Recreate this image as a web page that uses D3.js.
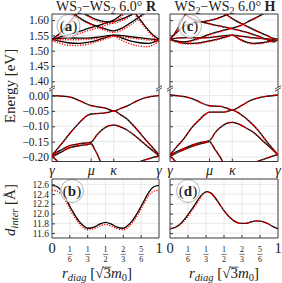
<!DOCTYPE html>
<html><head><meta charset="utf-8">
<script src="https://cdn.jsdelivr.net/npm/d3@7"></script>
<style>
body{margin:0;background:#fff}
text{font-family:"Liberation Serif","DejaVu Serif",serif;fill:#222}
</style></head>
<body><svg id="c" width="282" height="283"></svg>
<script>
// ---------------- data ----------------
const kLabels = ["γ","μ","κ","γ"];
const kPos = [0, 0.366, 0.577, 1];
const yTicksHigh = [1.40,1.45,1.50,1.55,1.60];
const yTicksLow = [-0.20,-0.15,-0.10,-0.05,0.00];
const dTicks = [11.6,11.8,12.0,12.2,12.4,12.6];
const rTicks = [0,1/6,1/3,1/2,2/3,5/6,1];
const rTickNum = ["0","1","1","1","2","5","1"];
const rTickDen = [null,"6","3","2","3","6",null];

// panel (a) upper energy, black (t along path, E in eV)
const highA_black = [
 [[0,1.537],[0.07,1.531],[0.15,1.526],[0.25,1.524],[0.33,1.527],[0.42,1.534],[0.5,1.543],[0.577,1.551],[0.65,1.549],[0.75,1.545],[0.85,1.541],[0.93,1.538],[1,1.537]],
 [[0,1.537],[0.07,1.540],[0.15,1.542],[0.25,1.541],[0.33,1.541],[0.42,1.544],[0.5,1.548],[0.577,1.551],[0.65,1.542],[0.73,1.532],[0.82,1.526],[0.9,1.524],[0.95,1.528],[1,1.537]],
 [[0.2,1.622],[0.29,1.600],[0.36,1.588],[0.43,1.579],[0.5,1.571],[0.577,1.565],[0.65,1.573],[0.72,1.588],[0.8,1.607],[0.86,1.622]],
 [[0,1.537],[0.08,1.545],[0.15,1.552],[0.22,1.559],[0.28,1.566],[0.34,1.573],[0.43,1.582],[0.5,1.590],[0.577,1.600],[0.62,1.610],[0.66,1.622]],
 [[0,1.537],[0.04,1.547],[0.08,1.560],[0.12,1.575],[0.16,1.592],[0.2,1.610],[0.23,1.622]],
 [[0.78,1.622],[0.8,1.612],[0.84,1.594],[0.88,1.576],[0.92,1.560],[0.96,1.547],[1,1.537]],
 [[0.3,1.622],[0.38,1.607],[0.45,1.598],[0.52,1.594],[0.577,1.595],[0.65,1.603],[0.72,1.614],[0.76,1.622]]
];
const highA_red = [
 [[0,1.533],[0.05,1.527],[0.12,1.520],[0.2,1.517],[0.28,1.518],[0.366,1.524],[0.45,1.533],[0.52,1.541],[0.577,1.547],[0.65,1.545],[0.75,1.541],[0.85,1.537],[0.93,1.534],[1,1.531]],
 [[0,1.533],[0.07,1.535],[0.15,1.536],[0.25,1.536],[0.33,1.537],[0.42,1.540],[0.5,1.544],[0.577,1.547],[0.64,1.536],[0.72,1.524],[0.8,1.516],[0.88,1.513],[0.94,1.518],[1,1.531]],
 [[0.19,1.622],[0.28,1.600],[0.35,1.587],[0.43,1.575],[0.5,1.566],[0.577,1.560],[0.65,1.567],[0.72,1.582],[0.8,1.601],[0.87,1.622]],
 [[0,1.533],[0.08,1.538],[0.15,1.545],[0.22,1.552],[0.28,1.559],[0.34,1.566],[0.43,1.575],[0.5,1.583],[0.577,1.593],[0.63,1.605],[0.68,1.622]],
 [[0,1.533],[0.04,1.542],[0.08,1.555],[0.12,1.570],[0.16,1.587],[0.2,1.605],[0.24,1.622]],
 [[0.77,1.622],[0.8,1.607],[0.84,1.589],[0.88,1.571],[0.92,1.555],[0.96,1.541],[1,1.531]],
 [[0.29,1.622],[0.37,1.605],[0.45,1.594],[0.52,1.589],[0.577,1.590],[0.65,1.598],[0.72,1.610],[0.77,1.622]]
];
// panel (c) upper energy
const highC_black = [
 [[0,1.537],[0.07,1.531],[0.13,1.529],[0.22,1.535],[0.32,1.548],[0.42,1.560],[0.5,1.567],[0.565,1.573],[0.65,1.582],[0.75,1.600],[0.82,1.612],[0.87,1.622]],
 [[0.13,1.622],[0.2,1.605],[0.287,1.595],[0.38,1.587],[0.47,1.580],[0.565,1.573],[0.65,1.566],[0.75,1.556],[0.85,1.543],[0.93,1.532],[0.96,1.529],[1,1.537]],
 [[0,1.537],[0.08,1.542],[0.16,1.543],[0.25,1.542],[0.35,1.543],[0.45,1.547],[0.53,1.550],[0.577,1.551],[0.65,1.548],[0.75,1.543],[0.85,1.540],[0.93,1.538],[1,1.537]],
 [[0,1.537],[0.08,1.528],[0.157,1.524],[0.25,1.525],[0.35,1.531],[0.45,1.539],[0.53,1.547],[0.577,1.551],[0.65,1.537],[0.72,1.527],[0.775,1.524],[0.85,1.526],[0.93,1.531],[1,1.537]],
 [[0.5,1.622],[0.53,1.616],[0.6,1.600],[0.7,1.582],[0.8,1.565],[0.9,1.549],[0.96,1.540],[1,1.537]],
 [[0,1.537],[0.05,1.556],[0.1,1.572],[0.15,1.584],[0.22,1.591],[0.3,1.595],[0.4,1.602],[0.5,1.614],[0.55,1.622]],
 [[0,1.537],[0.03,1.550],[0.06,1.566],[0.09,1.585],[0.12,1.605],[0.145,1.622]]
];
const highC_red = [
 [[0,1.536],[0.07,1.529],[0.13,1.527],[0.22,1.533],[0.32,1.546],[0.42,1.558],[0.5,1.566],[0.565,1.572],[0.65,1.581],[0.75,1.599],[0.82,1.611],[0.87,1.622]],
 [[0.13,1.622],[0.2,1.604],[0.287,1.594],[0.38,1.586],[0.47,1.579],[0.565,1.572],[0.65,1.565],[0.75,1.555],[0.85,1.542],[0.93,1.531],[0.96,1.528],[1,1.536]],
 [[0,1.536],[0.08,1.541],[0.16,1.542],[0.25,1.541],[0.35,1.542],[0.45,1.546],[0.53,1.549],[0.577,1.550],[0.65,1.547],[0.75,1.542],[0.85,1.539],[0.93,1.537],[1,1.536]],
 [[0,1.536],[0.08,1.526],[0.157,1.522],[0.25,1.523],[0.35,1.529],[0.45,1.537],[0.53,1.545],[0.577,1.550],[0.65,1.535],[0.72,1.525],[0.775,1.522],[0.85,1.524],[0.93,1.529],[1,1.536]],
 [[0.5,1.622],[0.53,1.615],[0.6,1.599],[0.7,1.581],[0.8,1.564],[0.9,1.548],[0.96,1.539],[1,1.536]],
 [[0,1.536],[0.05,1.555],[0.1,1.571],[0.15,1.583],[0.22,1.590],[0.3,1.594],[0.4,1.601],[0.5,1.613],[0.55,1.622]],
 [[0,1.536],[0.03,1.549],[0.06,1.565],[0.09,1.584],[0.12,1.604],[0.145,1.622]]
];
// lower energy (valence) panels
const lowA = [
 [[0,0],[0.1,-0.002],[0.17,-0.005],[0.23,-0.012],[0.29,-0.022],[0.366,-0.033],[0.42,-0.036],[0.5,-0.041],[0.577,-0.050],[0.64,-0.042],[0.7,-0.034],[0.79,-0.018],[0.86,-0.008],[0.92,-0.003],[1,0]],
 [[0,-0.195],[0.05,-0.174],[0.106,-0.150],[0.17,-0.122],[0.23,-0.098],[0.29,-0.076],[0.33,-0.065],[0.366,-0.060],[0.45,-0.058],[0.52,-0.055],[0.577,-0.050],[0.64,-0.062],[0.7,-0.076],[0.79,-0.109],[0.86,-0.138],[0.916,-0.160],[1,-0.193]],
 [[0,-0.195],[0.08,-0.178],[0.168,-0.163],[0.26,-0.157],[0.33,-0.154],[0.366,-0.152],[0.42,-0.128],[0.48,-0.108],[0.53,-0.099],[0.577,-0.096],[0.63,-0.100],[0.7,-0.112],[0.8,-0.138],[0.9,-0.168],[1,-0.196]],
 [[0,-0.200],[0.08,-0.185],[0.168,-0.170],[0.26,-0.163],[0.33,-0.160],[0.366,-0.157],[0.40,-0.176],[0.43,-0.197],[0.46,-0.222]],
 [[0.76,-0.222],[0.85,-0.212],[0.93,-0.203],[1,-0.197]],
 [[0,-0.199],[0.03,-0.207],[0.07,-0.222]]
];
const lowC = [
 [[0,0.002],[0.08,-0.001],[0.157,-0.005],[0.22,-0.012],[0.28,-0.022],[0.366,-0.033],[0.466,-0.035],[0.52,-0.040],[0.577,-0.047],[0.65,-0.035],[0.744,-0.016],[0.82,-0.007],[0.9,-0.002],[1,0.002]],
 [[0,-0.193],[0.06,-0.168],[0.127,-0.141],[0.2,-0.105],[0.28,-0.076],[0.33,-0.060],[0.366,-0.054],[0.5,-0.054],[0.577,-0.047],[0.65,-0.060],[0.744,-0.087],[0.82,-0.115],[0.9,-0.152],[1,-0.193]],
 [[0,-0.193],[0.08,-0.180],[0.157,-0.168],[0.26,-0.155],[0.33,-0.150],[0.366,-0.147],[0.42,-0.120],[0.48,-0.100],[0.53,-0.090],[0.577,-0.087],[0.64,-0.093],[0.7,-0.105],[0.775,-0.120],[0.85,-0.145],[0.93,-0.170],[1,-0.193]],
 [[0,-0.198],[0.08,-0.184],[0.157,-0.172],[0.26,-0.159],[0.33,-0.153],[0.366,-0.150],[0.41,-0.172],[0.46,-0.198],[0.5,-0.222]],
 [[0.744,-0.222],[0.85,-0.210],[0.93,-0.200],[1,-0.192]],
 [[0,-0.198],[0.03,-0.207],[0.07,-0.222]]
];
// interlayer distance panels
const rB = [0,0.05,0.1,0.15,0.2,0.25,0.3,0.333,0.4,0.45,0.5,0.55,0.6,0.667,0.7,0.75,0.8,0.85,0.9,0.95,1];
const dB_black = [12.58,12.55,12.42,12.22,12.02,11.85,11.74,11.70,11.73,11.79,11.82,11.79,11.73,11.70,11.74,11.85,12.02,12.22,12.42,12.55,12.58];
const dB_red   = [12.48,12.46,12.36,12.17,11.97,11.81,11.70,11.67,11.70,11.75,11.78,11.75,11.70,11.67,11.70,11.81,11.97,12.17,12.36,12.46,12.48];
const rD = [0,0.05,0.1,0.15,0.2,0.25,0.3,0.34,0.38,0.42,0.46,0.5,0.55,0.6,0.65,0.7,0.75,0.8,0.85,0.9,0.95,1];
const dD_black = [11.69,11.72,11.80,11.93,12.08,12.25,12.40,12.45,12.42,12.32,12.19,12.06,11.93,11.84,11.80,11.80,11.83,11.85,11.84,11.80,11.74,11.69];
const dD_red   = [11.69,11.71,11.78,11.90,12.05,12.22,12.38,12.44,12.42,12.32,12.19,12.06,11.93,11.84,11.80,11.80,11.83,11.85,11.84,11.80,11.74,11.69];

// ---------------- layout ----------------
const svg = d3.select("#c");
svg.append("rect").attr("width",282).attr("height",283).attr("fill","#fff");
const cols = [[52,159],[170,278]];
const rowHigh = [87.4,14], rowLow = [161.5,89.5], rowD = [238,179];
const gridCol = "#e3e3e3", spineCol = "#3a3a3a";
const line = (x,y)=>d3.line().x(d=>x(d[0])).y(d=>y(d[1])).curve(d3.curveMonotoneX);
let clipId = 0;

function panel(ci, yDomain, yRange, yTicks, xTicks, kind, blackBands, redBands, showYLabels, fmt, tickFont, tag, tagPos){
  const x = d3.scaleLinear([0,1], cols[ci]);
  const y = d3.scaleLinear(yDomain, yRange);
  const [x0,x1] = cols[ci]; const yb = yRange[0], yt = yRange[1];
  const g = svg.append("g");
  const id = "clip"+(clipId++);
  svg.append("clipPath").attr("id",id).append("rect").attr("x",x0).attr("y",yt).attr("width",x1-x0).attr("height",yb-yt);
  const gg = g.append("g");
  gg.selectAll(".hy").data(yTicks).join("line").attr("x1",x0).attr("x2",x1)
    .attr("y1",d=>y(d)).attr("y2",d=>y(d)).attr("stroke",gridCol).attr("stroke-width",0.8);
  gg.selectAll(".vx").data(xTicks.filter(d=>d>0&&d<1)).join("line").attr("y1",yt).attr("y2",yb)
    .attr("x1",d=>x(d)).attr("x2",d=>x(d)).attr("stroke",gridCol).attr("stroke-width",0.8);
  const lg = g.append("g").attr("clip-path",`url(#${id})`);
  const L = line(x,y);
  lg.selectAll(".b").data(blackBands).join("path").attr("d",L).attr("fill","none")
    .attr("stroke","#000").attr("stroke-width",1.3);
  lg.selectAll(".r").data(redBands).join("path").attr("d",L).attr("fill","none")
    .attr("stroke","#ff0000").attr("stroke-width",1.4).attr("stroke-dasharray","1.2,1.4");
  if(tag){
    const tg = g.append("g").attr("clip-path",`url(#${id})`);
    tg.append("circle").attr("cx",tagPos[0]).attr("cy",tagPos[1]).attr("r",11.5)
      .attr("fill","rgba(255,255,255,0.72)").attr("stroke","#aaa").attr("stroke-width",0.9);
    const t = g.append("text").attr("x",tagPos[0]).attr("y",tagPos[1]+5).attr("text-anchor","middle").attr("font-size",15);
    t.append("tspan").text("(");
    t.append("tspan").attr("font-weight","bold").text(tag);
    t.append("tspan").text(")");
  }
  const ax = d3.axisLeft(y).tickValues(yTicks).tickSize(-3).tickPadding(showYLabels?3:0)
    .tickFormat(showYLabels? d3.format(fmt) : "");
  const ag = g.append("g").attr("transform",`translate(${x0},0)`).call(ax);
  ag.select(".domain").remove();
  ag.selectAll(".tick line").attr("stroke",spineCol);
  ag.selectAll(".tick text").attr("font-family","Liberation Serif").attr("font-size",tickFont).attr("fill","#333");
  if(kind!=="high"){
    g.selectAll(".bt").data(xTicks.filter(d=>d>0&&d<1)).join("line")
      .attr("x1",d=>x(d)).attr("x2",d=>x(d)).attr("y1",yb).attr("y2",yb-3).attr("stroke",spineCol);
  }
  let p;
  if(kind==="high") p = `M${x0},${yb}V${yt}H${x1}V${yb}`;
  else if(kind==="low") p = `M${x0},${yt}V${yb}H${x1}V${yt}`;
  else p = `M${x0},${yt}V${yb}H${x1}V${yt}Z`;
  g.append("path").attr("d",p).attr("fill","none").attr("stroke",spineCol).attr("stroke-width",1);
  if(kind==="high"||kind==="low"){
    const yy = kind==="high"? yb : yt;
    [x0,x1].forEach(xx=>g.append("line").attr("x1",xx-3).attr("y1",yy+1.8).attr("x2",xx+3).attr("y2",yy-1.8)
      .attr("stroke",spineCol).attr("stroke-width",0.9));
  }
  return {x,y};
}

const toPairs = (r,d)=>r.map((v,i)=>[v,d[i]]);
panel(0,[1.38,1.62],rowHigh,yTicksHigh,kPos,"high",highA_black,highA_red,true,".2f",11.5,"a",[68.5,26]);
const pa = panel(0,[-0.215,0.02],rowLow,yTicksLow,kPos,"low",lowA,lowA,true,".2f",11.5,null);
const pb = panel(0,[11.5,12.71],rowD,dTicks,rTicks,"d",[toPairs(rB,dB_black)],[toPairs(rB,dB_red)],true,".1f",9.5,"b",[72,191]);
panel(1,[1.38,1.62],rowHigh,yTicksHigh,kPos,"high",highC_black,highC_red,false,".2f",11.5,"c",[190,26]);
const pc = panel(1,[-0.215,0.02],rowLow,yTicksLow,kPos,"low",lowC,lowC,false,".2f",11.5,null);
const pd = panel(1,[11.5,12.71],rowD,dTicks,rTicks,"d",[toPairs(rD,dD_black)],[toPairs(rD,dD_red)],false,".1f",9.5,"d",[188,191]);

[pa,pc].forEach(p=>{
  svg.append("g").selectAll("text").data(kPos).join("text")
    .attr("x",d=>p.x(d)).attr("y",174.5).attr("text-anchor","middle")
    .attr("font-size",14).attr("font-style","italic").text((d,i)=>kLabels[i]);
});
[pb,pd].forEach(p=>{
  rTicks.forEach((r,i)=>{
    const xx = p.x(r);
    if(rTickDen[i]===null){
      svg.append("text").attr("x",xx).attr("y",252.5).attr("text-anchor","middle").attr("font-size",14.5).text(rTickNum[i]);
    } else {
      svg.append("text").attr("x",xx).attr("y",252.2).attr("text-anchor","middle").attr("font-size",8).text(rTickNum[i]);
      svg.append("line").attr("x1",xx-2.6).attr("x2",xx+2.6).attr("y1",254.4).attr("y2",254.4).attr("stroke","#222").attr("stroke-width",0.6);
      svg.append("text").attr("x",xx).attr("y",261.9).attr("text-anchor","middle").attr("font-size",8).text(rTickDen[i]);
    }
  });
});
[[106,"R"],[225,"H"]].forEach(([cx,s])=>{
  const t = svg.append("text").attr("x",cx).attr("y",10.5).attr("text-anchor","middle").attr("font-size",14);
  t.append("tspan").text("WS");
  t.append("tspan").attr("dy",3).attr("font-size",10).text("2");
  t.append("tspan").attr("dy",-3).text("−WS");
  t.append("tspan").attr("dy",3).attr("font-size",10).text("2");
  t.append("tspan").attr("dy",-3).text(" 6.0° ");
  t.append("tspan").attr("font-weight","bold").text(s);
});
[97,224].forEach(cx=>{
  const t = svg.append("text").attr("x",cx).attr("y",278).attr("text-anchor","middle").attr("font-size",15);
  t.append("tspan").attr("font-style","italic").text("r");
  t.append("tspan").attr("dy",2.5).attr("font-size",10.5).attr("font-style","italic").text("diag");
  t.append("tspan").attr("dy",-2.5).text(" [√3");
  t.append("tspan").attr("font-style","italic").text("m");
  t.append("tspan").attr("dy",2.5).attr("font-size",10.5).text("0");
  t.append("tspan").attr("dy",-2.5).text("]");
  const n = t.node();
  const ext = n.getExtentOfChar(8);
  const sq = n.getExtentOfChar(7);
  svg.append("line").attr("x1",sq.x+sq.width-0.6).attr("x2",ext.x+ext.width+0.3)
    .attr("y1",sq.y+2.2).attr("y2",sq.y+2.2).attr("stroke","#222").attr("stroke-width",0.8);
});
svg.append("text").attr("transform","translate(14.5,86) rotate(-90)").attr("text-anchor","middle")
  .attr("font-size",15).text("Energy [eV]");
const dl = svg.append("text").attr("transform","translate(14.5,210) rotate(-90)").attr("text-anchor","middle").attr("font-size",15);
dl.append("tspan").attr("font-style","italic").text("d");
dl.append("tspan").attr("dy",3).attr("font-size",10.5).attr("font-style","italic").text("inter");
dl.append("tspan").attr("dy",-3).text(" [Å]");
</script></body></html>
